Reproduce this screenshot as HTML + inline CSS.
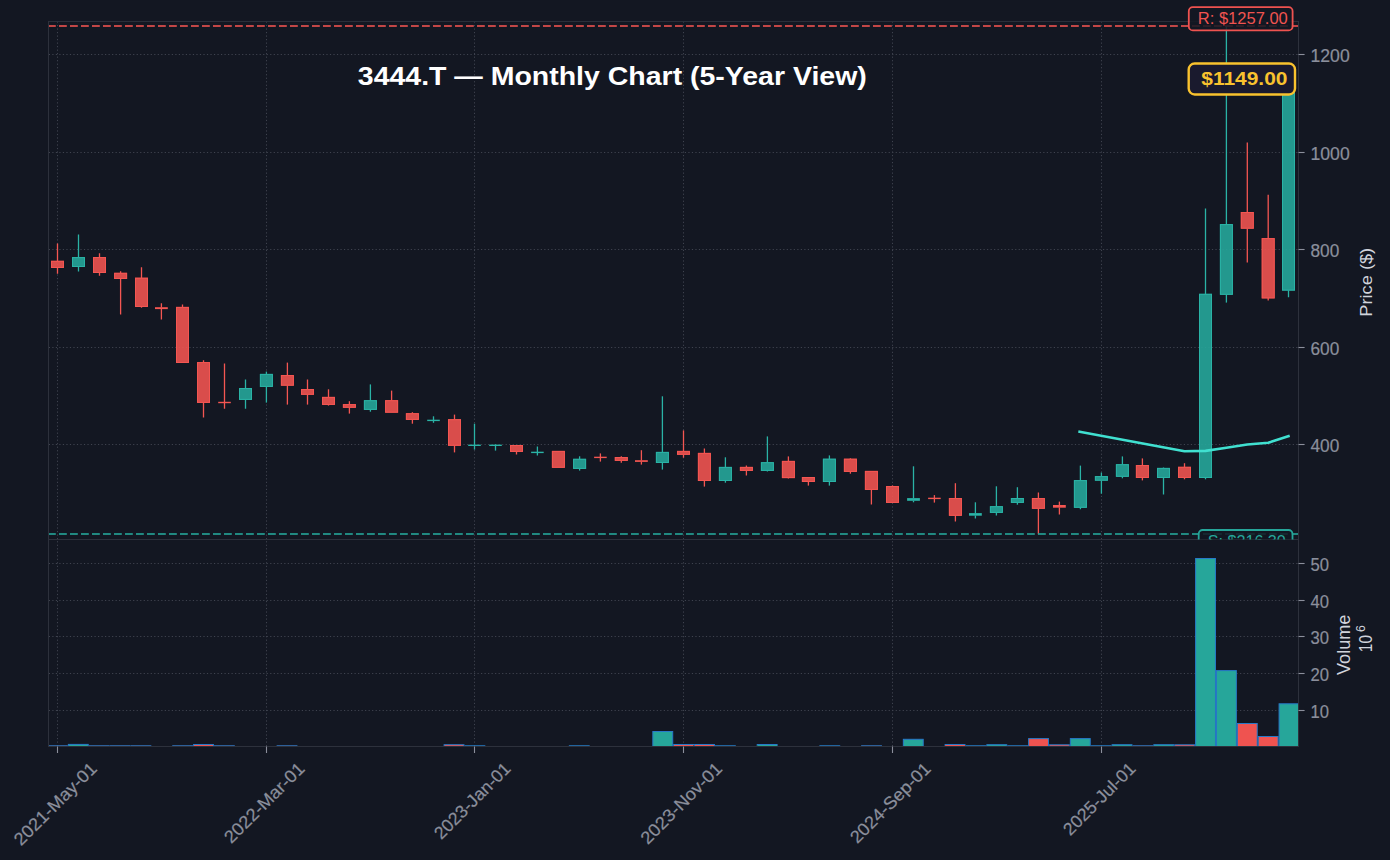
<!DOCTYPE html><html><head><meta charset="utf-8"><style>html,body{margin:0;padding:0;background:#131722;width:1390px;height:860px;overflow:hidden}svg{display:block}text{font-family:"Liberation Sans", sans-serif}</style></head><body><svg width="1390" height="860" viewBox="0 0 1390 860"><rect x="0" y="0" width="1390" height="860" fill="#131722"/><defs><clipPath id="cp"><rect x="48.5" y="21.45" width="1250.0" height="518.05"/></clipPath><clipPath id="cv"><rect x="48.5" y="539.5" width="1250.0" height="207.0"/></clipPath></defs><g stroke="#3f434f" stroke-width="1" stroke-dasharray="1.2 2.314" stroke-dashoffset="-0.3" fill="none"><line x1="57.50" y1="539.5" x2="57.50" y2="21.45"/><line x1="57.50" y1="746.5" x2="57.50" y2="539.5"/><line x1="266.50" y1="539.5" x2="266.50" y2="21.45"/><line x1="266.50" y1="746.5" x2="266.50" y2="539.5"/><line x1="474.50" y1="539.5" x2="474.50" y2="21.45"/><line x1="474.50" y1="746.5" x2="474.50" y2="539.5"/><line x1="683.50" y1="539.5" x2="683.50" y2="21.45"/><line x1="683.50" y1="746.5" x2="683.50" y2="539.5"/><line x1="892.50" y1="539.5" x2="892.50" y2="21.45"/><line x1="892.50" y1="746.5" x2="892.50" y2="539.5"/><line x1="1101.50" y1="539.5" x2="1101.50" y2="21.45"/><line x1="1101.50" y1="746.5" x2="1101.50" y2="539.5"/><line x1="48.5" y1="54.50" x2="1298.5" y2="54.50"/><line x1="48.5" y1="152.50" x2="1298.5" y2="152.50"/><line x1="48.5" y1="249.50" x2="1298.5" y2="249.50"/><line x1="48.5" y1="347.50" x2="1298.5" y2="347.50"/><line x1="48.5" y1="444.50" x2="1298.5" y2="444.50"/><line x1="48.5" y1="563.50" x2="1298.5" y2="563.50"/><line x1="48.5" y1="600.50" x2="1298.5" y2="600.50"/><line x1="48.5" y1="636.50" x2="1298.5" y2="636.50"/><line x1="48.5" y1="673.50" x2="1298.5" y2="673.50"/><line x1="48.5" y1="710.50" x2="1298.5" y2="710.50"/></g><g clip-path="url(#cv)"><rect x="47.46" y="745.80" width="19.88" height="0.70" fill="#ef5350" stroke="#2779c8" stroke-width="1"/><rect x="68.34" y="744.40" width="19.88" height="2.10" fill="#26a69a" stroke="#2779c8" stroke-width="1"/><rect x="89.21" y="745.80" width="19.88" height="0.70" fill="#ef5350" stroke="#2779c8" stroke-width="1"/><rect x="110.09" y="745.80" width="19.88" height="0.70" fill="#ef5350" stroke="#2779c8" stroke-width="1"/><rect x="130.96" y="745.80" width="19.88" height="0.70" fill="#ef5350" stroke="#2779c8" stroke-width="1"/><rect x="172.71" y="745.80" width="19.88" height="0.70" fill="#ef5350" stroke="#2779c8" stroke-width="1"/><rect x="193.59" y="744.50" width="19.88" height="2.00" fill="#ef5350" stroke="#2779c8" stroke-width="1"/><rect x="214.46" y="745.80" width="19.88" height="0.70" fill="#ef5350" stroke="#2779c8" stroke-width="1"/><rect x="277.09" y="745.80" width="19.88" height="0.70" fill="#ef5350" stroke="#2779c8" stroke-width="1"/><rect x="444.09" y="744.70" width="19.88" height="1.80" fill="#ef5350" stroke="#2779c8" stroke-width="1"/><rect x="464.96" y="745.80" width="19.88" height="0.70" fill="#26a69a" stroke="#2779c8" stroke-width="1"/><rect x="569.34" y="745.80" width="19.88" height="0.70" fill="#26a69a" stroke="#2779c8" stroke-width="1"/><rect x="652.84" y="731.50" width="19.88" height="15.00" fill="#26a69a" stroke="#2779c8" stroke-width="1"/><rect x="673.71" y="744.50" width="19.88" height="2.00" fill="#ef5350" stroke="#2779c8" stroke-width="1"/><rect x="694.59" y="744.50" width="19.88" height="2.00" fill="#ef5350" stroke="#2779c8" stroke-width="1"/><rect x="715.46" y="745.80" width="19.88" height="0.70" fill="#26a69a" stroke="#2779c8" stroke-width="1"/><rect x="757.21" y="744.50" width="19.88" height="2.00" fill="#26a69a" stroke="#2779c8" stroke-width="1"/><rect x="819.84" y="745.80" width="19.88" height="0.70" fill="#26a69a" stroke="#2779c8" stroke-width="1"/><rect x="861.59" y="745.80" width="19.88" height="0.70" fill="#ef5350" stroke="#2779c8" stroke-width="1"/><rect x="903.34" y="739.30" width="19.88" height="7.20" fill="#26a69a" stroke="#2779c8" stroke-width="1"/><rect x="945.09" y="744.50" width="19.88" height="2.00" fill="#ef5350" stroke="#2779c8" stroke-width="1"/><rect x="965.96" y="745.80" width="19.88" height="0.70" fill="#26a69a" stroke="#2779c8" stroke-width="1"/><rect x="986.84" y="744.70" width="19.88" height="1.80" fill="#26a69a" stroke="#2779c8" stroke-width="1"/><rect x="1007.71" y="745.80" width="19.88" height="0.70" fill="#26a69a" stroke="#2779c8" stroke-width="1"/><rect x="1028.59" y="738.60" width="19.88" height="7.90" fill="#ef5350" stroke="#2779c8" stroke-width="1"/><rect x="1049.46" y="744.80" width="19.88" height="1.70" fill="#ef5350" stroke="#2779c8" stroke-width="1"/><rect x="1070.34" y="738.60" width="19.88" height="7.90" fill="#26a69a" stroke="#2779c8" stroke-width="1"/><rect x="1091.21" y="745.80" width="19.88" height="0.70" fill="#26a69a" stroke="#2779c8" stroke-width="1"/><rect x="1112.09" y="744.70" width="19.88" height="1.80" fill="#26a69a" stroke="#2779c8" stroke-width="1"/><rect x="1132.96" y="745.80" width="19.88" height="0.70" fill="#ef5350" stroke="#2779c8" stroke-width="1"/><rect x="1153.84" y="744.70" width="19.88" height="1.80" fill="#26a69a" stroke="#2779c8" stroke-width="1"/><rect x="1174.71" y="744.80" width="19.88" height="1.70" fill="#ef5350" stroke="#2779c8" stroke-width="1"/><rect x="1195.59" y="558.50" width="19.88" height="188.00" fill="#26a69a" stroke="#2779c8" stroke-width="1"/><rect x="1216.46" y="670.60" width="19.88" height="75.90" fill="#26a69a" stroke="#2779c8" stroke-width="1"/><rect x="1237.34" y="723.50" width="19.88" height="23.00" fill="#ef5350" stroke="#2779c8" stroke-width="1"/><rect x="1258.21" y="736.50" width="19.88" height="10.00" fill="#ef5350" stroke="#2779c8" stroke-width="1"/><rect x="1279.09" y="703.80" width="19.88" height="42.70" fill="#26a69a" stroke="#2779c8" stroke-width="1"/></g><g clip-path="url(#cp)"><line x1="57.50" y1="243.4" x2="57.50" y2="261.10" stroke="#f45652" stroke-width="1.3"/><line x1="57.50" y1="267.70" x2="57.50" y2="273.8" stroke="#f45652" stroke-width="1.3"/><rect x="51.00" y="260.8" width="13" height="7.20" fill="#ef5350" fill-opacity="0.9"/><rect x="51.50" y="261.3" width="12" height="6.20" fill="none" stroke="#f45652" stroke-width="1"/><line x1="78.50" y1="234.4" x2="78.50" y2="257.40" stroke="#2ab3a6" stroke-width="1.3"/><line x1="78.50" y1="266.70" x2="78.50" y2="271.5" stroke="#2ab3a6" stroke-width="1.3"/><rect x="72.00" y="257.1" width="13" height="9.90" fill="#26a69a" fill-opacity="0.9"/><rect x="72.50" y="257.6" width="12" height="8.90" fill="none" stroke="#2ab3a6" stroke-width="1"/><line x1="99.50" y1="253.3" x2="99.50" y2="257.30" stroke="#f45652" stroke-width="1.3"/><line x1="99.50" y1="272.70" x2="99.50" y2="275.7" stroke="#f45652" stroke-width="1.3"/><rect x="93.00" y="257.0" width="13" height="16.00" fill="#ef5350" fill-opacity="0.9"/><rect x="93.50" y="257.5" width="12" height="15.00" fill="none" stroke="#f45652" stroke-width="1"/><line x1="120.60" y1="271.3" x2="120.60" y2="273.10" stroke="#f45652" stroke-width="1.3"/><line x1="120.60" y1="278.70" x2="120.60" y2="314.5" stroke="#f45652" stroke-width="1.3"/><rect x="114.10" y="272.8" width="13" height="6.20" fill="#ef5350" fill-opacity="0.9"/><rect x="114.60" y="273.3" width="12" height="5.20" fill="none" stroke="#f45652" stroke-width="1"/><line x1="141.50" y1="267.2" x2="141.50" y2="278.00" stroke="#f45652" stroke-width="1.3"/><line x1="141.50" y1="306.70" x2="141.50" y2="307.7" stroke="#f45652" stroke-width="1.3"/><rect x="135.00" y="277.7" width="13" height="29.30" fill="#ef5350" fill-opacity="0.9"/><rect x="135.50" y="278.2" width="12" height="28.30" fill="none" stroke="#f45652" stroke-width="1"/><line x1="161.40" y1="303.3" x2="161.40" y2="307.40" stroke="#f45652" stroke-width="1.3"/><line x1="161.40" y1="308.90" x2="161.40" y2="319.5" stroke="#f45652" stroke-width="1.3"/><rect x="155.00" y="307.20" width="12.8" height="1.90" fill="#f45652"/><line x1="182.50" y1="304.4" x2="182.50" y2="307.20" stroke="#f45652" stroke-width="1.3"/><rect x="176.00" y="306.9" width="13" height="56.10" fill="#ef5350" fill-opacity="0.9"/><rect x="176.50" y="307.4" width="12" height="55.10" fill="none" stroke="#f45652" stroke-width="1"/><line x1="203.50" y1="360.3" x2="203.50" y2="362.40" stroke="#f45652" stroke-width="1.3"/><line x1="203.50" y1="402.60" x2="203.50" y2="417.4" stroke="#f45652" stroke-width="1.3"/><rect x="197.00" y="362.1" width="13" height="40.80" fill="#ef5350" fill-opacity="0.9"/><rect x="197.50" y="362.6" width="12" height="39.80" fill="none" stroke="#f45652" stroke-width="1"/><line x1="224.50" y1="363.6" x2="224.50" y2="402.20" stroke="#f45652" stroke-width="1.3"/><line x1="224.50" y1="402.80" x2="224.50" y2="408.7" stroke="#f45652" stroke-width="1.3"/><rect x="218.20" y="401.80" width="12.6" height="1.4" fill="#f45652"/><line x1="245.50" y1="379.5" x2="245.50" y2="388.30" stroke="#2ab3a6" stroke-width="1.3"/><line x1="245.50" y1="399.60" x2="245.50" y2="408.7" stroke="#2ab3a6" stroke-width="1.3"/><rect x="239.00" y="388.0" width="13" height="11.90" fill="#26a69a" fill-opacity="0.9"/><rect x="239.50" y="388.5" width="12" height="10.90" fill="none" stroke="#2ab3a6" stroke-width="1"/><line x1="266.40" y1="371.6" x2="266.40" y2="374.20" stroke="#2ab3a6" stroke-width="1.3"/><line x1="266.40" y1="386.60" x2="266.40" y2="402.6" stroke="#2ab3a6" stroke-width="1.3"/><rect x="259.90" y="373.9" width="13" height="13.00" fill="#26a69a" fill-opacity="0.9"/><rect x="260.40" y="374.4" width="12" height="12.00" fill="none" stroke="#2ab3a6" stroke-width="1"/><line x1="287.40" y1="362.6" x2="287.40" y2="375.30" stroke="#f45652" stroke-width="1.3"/><line x1="287.40" y1="385.40" x2="287.40" y2="404.6" stroke="#f45652" stroke-width="1.3"/><rect x="280.90" y="375.0" width="13" height="10.70" fill="#ef5350" fill-opacity="0.9"/><rect x="281.40" y="375.5" width="12" height="9.70" fill="none" stroke="#f45652" stroke-width="1"/><line x1="307.50" y1="379.5" x2="307.50" y2="389.30" stroke="#f45652" stroke-width="1.3"/><line x1="307.50" y1="394.50" x2="307.50" y2="404.6" stroke="#f45652" stroke-width="1.3"/><rect x="301.00" y="389.0" width="13" height="5.80" fill="#ef5350" fill-opacity="0.9"/><rect x="301.50" y="389.5" width="12" height="4.80" fill="none" stroke="#f45652" stroke-width="1"/><line x1="328.50" y1="389.3" x2="328.50" y2="397.20" stroke="#f45652" stroke-width="1.3"/><line x1="328.50" y1="404.60" x2="328.50" y2="405.6" stroke="#f45652" stroke-width="1.3"/><rect x="322.00" y="396.9" width="13" height="8.00" fill="#ef5350" fill-opacity="0.9"/><rect x="322.50" y="397.4" width="12" height="7.00" fill="none" stroke="#f45652" stroke-width="1"/><line x1="349.40" y1="401.2" x2="349.40" y2="404.40" stroke="#f45652" stroke-width="1.3"/><line x1="349.40" y1="407.50" x2="349.40" y2="413.6" stroke="#f45652" stroke-width="1.3"/><rect x="342.90" y="404.1" width="13" height="3.70" fill="#ef5350" fill-opacity="0.9"/><rect x="343.40" y="404.6" width="12" height="2.70" fill="none" stroke="#f45652" stroke-width="1"/><line x1="370.40" y1="384.4" x2="370.40" y2="400.50" stroke="#2ab3a6" stroke-width="1.3"/><line x1="370.40" y1="409.60" x2="370.40" y2="411.7" stroke="#2ab3a6" stroke-width="1.3"/><rect x="363.90" y="400.2" width="13" height="9.70" fill="#26a69a" fill-opacity="0.9"/><rect x="364.40" y="400.7" width="12" height="8.70" fill="none" stroke="#2ab3a6" stroke-width="1"/><line x1="391.60" y1="390.6" x2="391.60" y2="400.50" stroke="#f45652" stroke-width="1.3"/><rect x="385.10" y="400.2" width="13" height="12.50" fill="#ef5350" fill-opacity="0.9"/><rect x="385.60" y="400.7" width="12" height="11.50" fill="none" stroke="#f45652" stroke-width="1"/><line x1="412.40" y1="412.2" x2="412.40" y2="413.50" stroke="#f45652" stroke-width="1.3"/><line x1="412.40" y1="419.60" x2="412.40" y2="423.7" stroke="#f45652" stroke-width="1.3"/><rect x="405.90" y="413.2" width="13" height="6.70" fill="#ef5350" fill-opacity="0.9"/><rect x="406.40" y="413.7" width="12" height="5.70" fill="none" stroke="#f45652" stroke-width="1"/><line x1="433.50" y1="416.3" x2="433.50" y2="420.20" stroke="#2ab3a6" stroke-width="1.3"/><line x1="433.50" y1="420.60" x2="433.50" y2="422.8" stroke="#2ab3a6" stroke-width="1.3"/><rect x="427.20" y="419.70" width="12.6" height="1.4" fill="#2ab3a6"/><line x1="454.50" y1="414.6" x2="454.50" y2="419.50" stroke="#f45652" stroke-width="1.3"/><line x1="454.50" y1="445.50" x2="454.50" y2="452.4" stroke="#f45652" stroke-width="1.3"/><rect x="448.00" y="419.2" width="13" height="26.60" fill="#ef5350" fill-opacity="0.9"/><rect x="448.50" y="419.7" width="12" height="25.60" fill="none" stroke="#f45652" stroke-width="1"/><line x1="474.50" y1="423.7" x2="474.50" y2="445.10" stroke="#2ab3a6" stroke-width="1.3"/><line x1="474.50" y1="445.50" x2="474.50" y2="449.6" stroke="#2ab3a6" stroke-width="1.3"/><rect x="468.20" y="444.60" width="12.6" height="1.4" fill="#2ab3a6"/><line x1="495.50" y1="444.4" x2="495.50" y2="445.10" stroke="#2ab3a6" stroke-width="1.3"/><line x1="495.50" y1="445.50" x2="495.50" y2="450.6" stroke="#2ab3a6" stroke-width="1.3"/><rect x="489.20" y="444.60" width="12.6" height="1.4" fill="#2ab3a6"/><line x1="516.50" y1="451.60" x2="516.50" y2="454.5" stroke="#f45652" stroke-width="1.3"/><rect x="510.00" y="445.0" width="13" height="6.90" fill="#ef5350" fill-opacity="0.9"/><rect x="510.50" y="445.5" width="12" height="5.90" fill="none" stroke="#f45652" stroke-width="1"/><line x1="537.40" y1="446.5" x2="537.40" y2="452.20" stroke="#2ab3a6" stroke-width="1.3"/><line x1="537.40" y1="452.60" x2="537.40" y2="455.5" stroke="#2ab3a6" stroke-width="1.3"/><rect x="531.10" y="451.70" width="12.6" height="1.4" fill="#2ab3a6"/><rect x="551.90" y="450.9" width="13" height="16.90" fill="#ef5350" fill-opacity="0.9"/><rect x="552.40" y="451.4" width="12" height="15.90" fill="none" stroke="#f45652" stroke-width="1"/><line x1="579.60" y1="456.3" x2="579.60" y2="459.10" stroke="#2ab3a6" stroke-width="1.3"/><line x1="579.60" y1="468.60" x2="579.60" y2="470.6" stroke="#2ab3a6" stroke-width="1.3"/><rect x="573.10" y="458.8" width="13" height="10.10" fill="#26a69a" fill-opacity="0.9"/><rect x="573.60" y="459.3" width="12" height="9.10" fill="none" stroke="#2ab3a6" stroke-width="1"/><line x1="600.40" y1="453.4" x2="600.40" y2="457.20" stroke="#f45652" stroke-width="1.3"/><line x1="600.40" y1="457.60" x2="600.40" y2="461.6" stroke="#f45652" stroke-width="1.3"/><rect x="594.10" y="456.70" width="12.6" height="1.4" fill="#f45652"/><line x1="621.30" y1="456.3" x2="621.30" y2="457.30" stroke="#f45652" stroke-width="1.3"/><line x1="621.30" y1="460.60" x2="621.30" y2="462.7" stroke="#f45652" stroke-width="1.3"/><rect x="614.80" y="457.0" width="13" height="3.90" fill="#ef5350" fill-opacity="0.9"/><rect x="615.30" y="457.5" width="12" height="2.90" fill="none" stroke="#f45652" stroke-width="1"/><line x1="641.40" y1="450.2" x2="641.40" y2="460.40" stroke="#f45652" stroke-width="1.3"/><line x1="641.40" y1="461.70" x2="641.40" y2="464.6" stroke="#f45652" stroke-width="1.3"/><rect x="635.00" y="460.20" width="12.8" height="1.70" fill="#f45652"/><line x1="662.40" y1="396.3" x2="662.40" y2="452.20" stroke="#2ab3a6" stroke-width="1.3"/><line x1="662.40" y1="462.70" x2="662.40" y2="469.6" stroke="#2ab3a6" stroke-width="1.3"/><rect x="655.90" y="451.9" width="13" height="11.10" fill="#26a69a" fill-opacity="0.9"/><rect x="656.40" y="452.4" width="12" height="10.10" fill="none" stroke="#2ab3a6" stroke-width="1"/><line x1="683.50" y1="430.4" x2="683.50" y2="451.20" stroke="#f45652" stroke-width="1.3"/><line x1="683.50" y1="454.50" x2="683.50" y2="457.7" stroke="#f45652" stroke-width="1.3"/><rect x="677.00" y="450.9" width="13" height="3.90" fill="#ef5350" fill-opacity="0.9"/><rect x="677.50" y="451.4" width="12" height="2.90" fill="none" stroke="#f45652" stroke-width="1"/><line x1="704.40" y1="448.5" x2="704.40" y2="453.20" stroke="#f45652" stroke-width="1.3"/><line x1="704.40" y1="480.70" x2="704.40" y2="486.6" stroke="#f45652" stroke-width="1.3"/><rect x="697.90" y="452.9" width="13" height="28.10" fill="#ef5350" fill-opacity="0.9"/><rect x="698.40" y="453.4" width="12" height="27.10" fill="none" stroke="#f45652" stroke-width="1"/><line x1="725.40" y1="457.3" x2="725.40" y2="467.20" stroke="#2ab3a6" stroke-width="1.3"/><line x1="725.40" y1="480.70" x2="725.40" y2="482.7" stroke="#2ab3a6" stroke-width="1.3"/><rect x="718.90" y="466.9" width="13" height="14.10" fill="#26a69a" fill-opacity="0.9"/><rect x="719.40" y="467.4" width="12" height="13.10" fill="none" stroke="#2ab3a6" stroke-width="1"/><line x1="746.40" y1="465.5" x2="746.40" y2="467.20" stroke="#f45652" stroke-width="1.3"/><line x1="746.40" y1="470.60" x2="746.40" y2="475.5" stroke="#f45652" stroke-width="1.3"/><rect x="739.90" y="466.9" width="13" height="4.00" fill="#ef5350" fill-opacity="0.9"/><rect x="740.40" y="467.4" width="12" height="3.00" fill="none" stroke="#f45652" stroke-width="1"/><line x1="767.40" y1="436.4" x2="767.40" y2="462.50" stroke="#2ab3a6" stroke-width="1.3"/><line x1="767.40" y1="470.60" x2="767.40" y2="471.5" stroke="#2ab3a6" stroke-width="1.3"/><rect x="760.90" y="462.2" width="13" height="8.70" fill="#26a69a" fill-opacity="0.9"/><rect x="761.40" y="462.7" width="12" height="7.70" fill="none" stroke="#2ab3a6" stroke-width="1"/><line x1="788.40" y1="456.4" x2="788.40" y2="461.20" stroke="#f45652" stroke-width="1.3"/><line x1="788.40" y1="477.80" x2="788.40" y2="478.5" stroke="#f45652" stroke-width="1.3"/><rect x="781.90" y="460.9" width="13" height="17.20" fill="#ef5350" fill-opacity="0.9"/><rect x="782.40" y="461.4" width="12" height="16.20" fill="none" stroke="#f45652" stroke-width="1"/><line x1="808.40" y1="481.70" x2="808.40" y2="485.6" stroke="#f45652" stroke-width="1.3"/><rect x="801.90" y="477.0" width="13" height="5.00" fill="#ef5350" fill-opacity="0.9"/><rect x="802.40" y="477.5" width="12" height="4.00" fill="none" stroke="#f45652" stroke-width="1"/><line x1="829.40" y1="455.4" x2="829.40" y2="459.00" stroke="#2ab3a6" stroke-width="1.3"/><line x1="829.40" y1="481.70" x2="829.40" y2="485.6" stroke="#2ab3a6" stroke-width="1.3"/><rect x="822.90" y="458.7" width="13" height="23.30" fill="#26a69a" fill-opacity="0.9"/><rect x="823.40" y="459.2" width="12" height="22.30" fill="none" stroke="#2ab3a6" stroke-width="1"/><line x1="850.40" y1="458.3" x2="850.40" y2="459.00" stroke="#f45652" stroke-width="1.3"/><line x1="850.40" y1="471.60" x2="850.40" y2="473.7" stroke="#f45652" stroke-width="1.3"/><rect x="843.90" y="458.7" width="13" height="13.20" fill="#ef5350" fill-opacity="0.9"/><rect x="844.40" y="459.2" width="12" height="12.20" fill="none" stroke="#f45652" stroke-width="1"/><line x1="871.40" y1="489.60" x2="871.40" y2="504.5" stroke="#f45652" stroke-width="1.3"/><rect x="864.90" y="470.9" width="13" height="19.00" fill="#ef5350" fill-opacity="0.9"/><rect x="865.40" y="471.4" width="12" height="18.00" fill="none" stroke="#f45652" stroke-width="1"/><line x1="892.50" y1="485.5" x2="892.50" y2="486.30" stroke="#f45652" stroke-width="1.3"/><rect x="886.00" y="486.0" width="13" height="16.90" fill="#ef5350" fill-opacity="0.9"/><rect x="886.50" y="486.5" width="12" height="15.90" fill="none" stroke="#f45652" stroke-width="1"/><line x1="913.50" y1="466.3" x2="913.50" y2="498.30" stroke="#2ab3a6" stroke-width="1.3"/><line x1="913.50" y1="500.60" x2="913.50" y2="502.3" stroke="#2ab3a6" stroke-width="1.3"/><rect x="907.10" y="498.10" width="12.8" height="2.70" fill="#2ab3a6"/><line x1="934.40" y1="495.1" x2="934.40" y2="498.20" stroke="#f45652" stroke-width="1.3"/><line x1="934.40" y1="498.60" x2="934.40" y2="502.6" stroke="#f45652" stroke-width="1.3"/><rect x="928.10" y="497.70" width="12.6" height="1.4" fill="#f45652"/><line x1="955.40" y1="483.2" x2="955.40" y2="498.30" stroke="#f45652" stroke-width="1.3"/><line x1="955.40" y1="515.50" x2="955.40" y2="521.6" stroke="#f45652" stroke-width="1.3"/><rect x="948.90" y="498.0" width="13" height="17.80" fill="#ef5350" fill-opacity="0.9"/><rect x="949.40" y="498.5" width="12" height="16.80" fill="none" stroke="#f45652" stroke-width="1"/><line x1="975.40" y1="502.3" x2="975.40" y2="513.30" stroke="#2ab3a6" stroke-width="1.3"/><line x1="975.40" y1="515.50" x2="975.40" y2="518.4" stroke="#2ab3a6" stroke-width="1.3"/><rect x="969.00" y="513.10" width="12.8" height="2.60" fill="#2ab3a6"/><line x1="996.40" y1="486.3" x2="996.40" y2="506.50" stroke="#2ab3a6" stroke-width="1.3"/><line x1="996.40" y1="512.60" x2="996.40" y2="515.5" stroke="#2ab3a6" stroke-width="1.3"/><rect x="989.90" y="506.2" width="13" height="6.70" fill="#26a69a" fill-opacity="0.9"/><rect x="990.40" y="506.7" width="12" height="5.70" fill="none" stroke="#2ab3a6" stroke-width="1"/><line x1="1017.40" y1="487.2" x2="1017.40" y2="498.30" stroke="#2ab3a6" stroke-width="1.3"/><line x1="1017.40" y1="502.60" x2="1017.40" y2="504.7" stroke="#2ab3a6" stroke-width="1.3"/><rect x="1010.90" y="498.0" width="13" height="4.90" fill="#26a69a" fill-opacity="0.9"/><rect x="1011.40" y="498.5" width="12" height="3.90" fill="none" stroke="#2ab3a6" stroke-width="1"/><line x1="1038.40" y1="492.5" x2="1038.40" y2="498.30" stroke="#f45652" stroke-width="1.3"/><line x1="1038.40" y1="508.50" x2="1038.40" y2="534.2" stroke="#f45652" stroke-width="1.3"/><rect x="1031.90" y="498.0" width="13" height="10.80" fill="#ef5350" fill-opacity="0.9"/><rect x="1032.40" y="498.5" width="12" height="9.80" fill="none" stroke="#f45652" stroke-width="1"/><line x1="1059.40" y1="501.6" x2="1059.40" y2="505.20" stroke="#f45652" stroke-width="1.3"/><line x1="1059.40" y1="507.50" x2="1059.40" y2="514.5" stroke="#f45652" stroke-width="1.3"/><rect x="1053.00" y="505.00" width="12.8" height="2.70" fill="#f45652"/><line x1="1080.40" y1="465.6" x2="1080.40" y2="480.40" stroke="#2ab3a6" stroke-width="1.3"/><line x1="1080.40" y1="507.50" x2="1080.40" y2="509.2" stroke="#2ab3a6" stroke-width="1.3"/><rect x="1073.90" y="480.1" width="13" height="27.70" fill="#26a69a" fill-opacity="0.9"/><rect x="1074.40" y="480.6" width="12" height="26.70" fill="none" stroke="#2ab3a6" stroke-width="1"/><line x1="1101.40" y1="472.5" x2="1101.40" y2="476.40" stroke="#2ab3a6" stroke-width="1.3"/><line x1="1101.40" y1="480.40" x2="1101.40" y2="493.7" stroke="#2ab3a6" stroke-width="1.3"/><rect x="1094.90" y="476.1" width="13" height="4.60" fill="#26a69a" fill-opacity="0.9"/><rect x="1095.40" y="476.6" width="12" height="3.60" fill="none" stroke="#2ab3a6" stroke-width="1"/><line x1="1122.40" y1="456.4" x2="1122.40" y2="464.50" stroke="#2ab3a6" stroke-width="1.3"/><line x1="1122.40" y1="476.50" x2="1122.40" y2="478.3" stroke="#2ab3a6" stroke-width="1.3"/><rect x="1115.90" y="464.2" width="13" height="12.60" fill="#26a69a" fill-opacity="0.9"/><rect x="1116.40" y="464.7" width="12" height="11.60" fill="none" stroke="#2ab3a6" stroke-width="1"/><line x1="1142.40" y1="458.4" x2="1142.40" y2="465.30" stroke="#f45652" stroke-width="1.3"/><line x1="1142.40" y1="477.70" x2="1142.40" y2="480.4" stroke="#f45652" stroke-width="1.3"/><rect x="1135.90" y="465.0" width="13" height="13.00" fill="#ef5350" fill-opacity="0.9"/><rect x="1136.40" y="465.5" width="12" height="12.00" fill="none" stroke="#f45652" stroke-width="1"/><line x1="1163.50" y1="467.5" x2="1163.50" y2="468.20" stroke="#2ab3a6" stroke-width="1.3"/><line x1="1163.50" y1="477.70" x2="1163.50" y2="494.5" stroke="#2ab3a6" stroke-width="1.3"/><rect x="1157.00" y="467.9" width="13" height="10.10" fill="#26a69a" fill-opacity="0.9"/><rect x="1157.50" y="468.4" width="12" height="9.10" fill="none" stroke="#2ab3a6" stroke-width="1"/><line x1="1184.50" y1="463.2" x2="1184.50" y2="467.10" stroke="#f45652" stroke-width="1.3"/><line x1="1184.50" y1="477.70" x2="1184.50" y2="479.3" stroke="#f45652" stroke-width="1.3"/><rect x="1178.00" y="466.8" width="13" height="11.20" fill="#ef5350" fill-opacity="0.9"/><rect x="1178.50" y="467.3" width="12" height="10.20" fill="none" stroke="#f45652" stroke-width="1"/><line x1="1205.50" y1="208.4" x2="1205.50" y2="294.10" stroke="#2ab3a6" stroke-width="1.3"/><line x1="1205.50" y1="477.70" x2="1205.50" y2="479.3" stroke="#2ab3a6" stroke-width="1.3"/><rect x="1199.00" y="293.8" width="13" height="184.20" fill="#26a69a" fill-opacity="0.9"/><rect x="1199.50" y="294.3" width="12" height="183.20" fill="none" stroke="#2ab3a6" stroke-width="1"/><line x1="1226.40" y1="25.9" x2="1226.40" y2="224.40" stroke="#2ab3a6" stroke-width="1.3"/><line x1="1226.40" y1="294.50" x2="1226.40" y2="302.6" stroke="#2ab3a6" stroke-width="1.3"/><rect x="1219.90" y="224.1" width="13" height="70.70" fill="#26a69a" fill-opacity="0.9"/><rect x="1220.40" y="224.6" width="12" height="69.70" fill="none" stroke="#2ab3a6" stroke-width="1"/><line x1="1247.30" y1="142.5" x2="1247.30" y2="212.30" stroke="#f45652" stroke-width="1.3"/><line x1="1247.30" y1="228.40" x2="1247.30" y2="262.4" stroke="#f45652" stroke-width="1.3"/><rect x="1240.80" y="212.0" width="13" height="16.70" fill="#ef5350" fill-opacity="0.9"/><rect x="1241.30" y="212.5" width="12" height="15.70" fill="none" stroke="#f45652" stroke-width="1"/><line x1="1268.20" y1="194.8" x2="1268.20" y2="238.40" stroke="#f45652" stroke-width="1.3"/><line x1="1268.20" y1="298.10" x2="1268.20" y2="300.5" stroke="#f45652" stroke-width="1.3"/><rect x="1261.70" y="238.1" width="13" height="60.30" fill="#ef5350" fill-opacity="0.9"/><rect x="1262.20" y="238.6" width="12" height="59.30" fill="none" stroke="#f45652" stroke-width="1"/><line x1="1288.50" y1="70.0" x2="1288.50" y2="79.60" stroke="#2ab3a6" stroke-width="1.3"/><line x1="1288.50" y1="290.30" x2="1288.50" y2="297.3" stroke="#2ab3a6" stroke-width="1.3"/><rect x="1282.00" y="79.3" width="13" height="211.30" fill="#26a69a" fill-opacity="0.9"/><rect x="1282.50" y="79.8" width="12" height="210.30" fill="none" stroke="#2ab3a6" stroke-width="1"/></g><polyline points="1079.60,431.7 1184.50,451.2 1205.50,450.9 1226.40,447.8 1247.30,444.5 1268.20,442.8 1288.50,436.2" fill="none" stroke="#40e0d0" stroke-width="2.6" stroke-linejoin="round" stroke-linecap="square" clip-path="url(#cp)"/><line x1="48.5" y1="26.0" x2="1298.5" y2="26.0" stroke="#ef5350" stroke-opacity="0.8" stroke-width="2" stroke-dasharray="7.8 3.2" stroke-dashoffset="0.5"/><line x1="48.5" y1="534.0" x2="1298.5" y2="534.0" stroke="#26a69a" stroke-opacity="0.8" stroke-width="2" stroke-dasharray="7.8 3.2" stroke-dashoffset="0.5"/><g stroke="#2d313c" stroke-width="1" fill="none"><rect x="48.5" y="21.45" width="1250.0" height="725.05"/><line x1="48.5" y1="539.5" x2="1298.5" y2="539.5"/></g><g stroke="#8b8f9c" stroke-width="1.1"><line x1="1298.5" y1="54.50" x2="1304.6" y2="54.50"/><line x1="1298.5" y1="152.50" x2="1304.6" y2="152.50"/><line x1="1298.5" y1="249.50" x2="1304.6" y2="249.50"/><line x1="1298.5" y1="347.50" x2="1304.6" y2="347.50"/><line x1="1298.5" y1="444.50" x2="1304.6" y2="444.50"/><line x1="1298.5" y1="563.50" x2="1304.6" y2="563.50"/><line x1="1298.5" y1="600.50" x2="1304.6" y2="600.50"/><line x1="1298.5" y1="636.50" x2="1304.6" y2="636.50"/><line x1="1298.5" y1="673.50" x2="1304.6" y2="673.50"/><line x1="1298.5" y1="710.50" x2="1304.6" y2="710.50"/><line x1="57.50" y1="746.5" x2="57.50" y2="753.0"/><line x1="266.50" y1="746.5" x2="266.50" y2="753.0"/><line x1="474.50" y1="746.5" x2="474.50" y2="753.0"/><line x1="683.50" y1="746.5" x2="683.50" y2="753.0"/><line x1="892.50" y1="746.5" x2="892.50" y2="753.0"/><line x1="1101.50" y1="746.5" x2="1101.50" y2="753.0"/></g><g fill="#8b8f9c" font-size="17.6" stroke="#8b8f9c" stroke-width="0.2"><text x="1310.5" y="451.75" textLength="28.8" lengthAdjust="spacingAndGlyphs">400</text><text x="1310.5" y="354.75" textLength="28.8" lengthAdjust="spacingAndGlyphs">600</text><text x="1310.5" y="256.75" textLength="28.8" lengthAdjust="spacingAndGlyphs">800</text><text x="1310.5" y="159.75" textLength="39.2" lengthAdjust="spacingAndGlyphs">1000</text><text x="1310.5" y="61.75" textLength="39.2" lengthAdjust="spacingAndGlyphs">1200</text><text x="1310.5" y="717.75" textLength="18.5" lengthAdjust="spacingAndGlyphs">10</text><text x="1310.5" y="680.75" textLength="18.5" lengthAdjust="spacingAndGlyphs">20</text><text x="1310.5" y="643.75" textLength="18.5" lengthAdjust="spacingAndGlyphs">30</text><text x="1310.5" y="607.75" textLength="18.5" lengthAdjust="spacingAndGlyphs">40</text><text x="1310.5" y="570.75" textLength="18.5" lengthAdjust="spacingAndGlyphs">50</text></g><g fill="#8b8f9c" font-size="17.6" stroke="#8b8f9c" stroke-width="0.2"><text x="0" y="0" text-anchor="middle" transform="translate(55.10,803.71) rotate(-45) translate(0,6.2)" textLength="108.6" lengthAdjust="spacingAndGlyphs">2021-May-01</text><text x="0" y="0" text-anchor="middle" transform="translate(264.10,802.65) rotate(-45) translate(0,6.2)" textLength="105.6" lengthAdjust="spacingAndGlyphs">2022-Mar-01</text><text x="0" y="0" text-anchor="middle" transform="translate(472.10,800.64) rotate(-45) translate(0,6.2)" textLength="99.9" lengthAdjust="spacingAndGlyphs">2023-Jan-01</text><text x="0" y="0" text-anchor="middle" transform="translate(681.10,803.04) rotate(-45) translate(0,6.2)" textLength="106.7" lengthAdjust="spacingAndGlyphs">2023-Nov-01</text><text x="0" y="0" text-anchor="middle" transform="translate(890.10,802.65) rotate(-45) translate(0,6.2)" textLength="105.6" lengthAdjust="spacingAndGlyphs">2024-Sep-01</text><text x="0" y="0" text-anchor="middle" transform="translate(1099.10,798.66) rotate(-45) translate(0,6.2)" textLength="94.3" lengthAdjust="spacingAndGlyphs">2025-Jul-01</text></g><text x="0" y="0" fill="#d1d4dc" font-size="16.8" text-anchor="middle" transform="translate(1371.6,282.3) rotate(-90)" textLength="69" lengthAdjust="spacingAndGlyphs">Price ($)</text><text x="0" y="0" fill="#d1d4dc" font-size="17.6" text-anchor="middle" transform="translate(1350.4,644.8) rotate(-90)" textLength="60.5" lengthAdjust="spacingAndGlyphs">Volume</text><text x="0" y="0" fill="#d1d4dc" font-size="17.6" transform="translate(1372.3,652.2) rotate(-90)" textLength="17.2" lengthAdjust="spacingAndGlyphs">10</text><text x="0" y="0" fill="#d1d4dc" font-size="12.2" transform="translate(1364.6,632.0) rotate(-90)">6</text><text x="357.8" y="85.1" fill="#ffffff" font-size="25.2" font-weight="bold" textLength="509" lengthAdjust="spacingAndGlyphs">3444.T — Monthly Chart (5-Year View)</text><rect x="1188.8" y="7.2" width="103.8" height="23.2" rx="4" ry="4" fill="#131722" fill-opacity="0.85" stroke="#ef5350" stroke-width="1.8"/><text x="1197.8" y="23.9" fill="#ef5350" font-size="16.2" textLength="90.0" lengthAdjust="spacingAndGlyphs">R: $1257.00</text><rect x="1188.7" y="63.5" width="106.3" height="31.0" rx="6" ry="6" fill="#1a1a2e" stroke="#f9c22e" stroke-width="2.4"/><text x="1201.3" y="85.1" fill="#f9c22e" font-size="17.9" font-weight="bold" textLength="86.2" lengthAdjust="spacingAndGlyphs">$1149.00</text><g clip-path="url(#cp)"><rect x="1198.7" y="530.0" width="93.8" height="23.2" rx="4" ry="4" fill="#131722" fill-opacity="0.85" stroke="#26a69a" stroke-width="1.8"/><text x="1207.8" y="547.3" fill="#26a69a" font-size="16.2" textLength="78" lengthAdjust="spacingAndGlyphs">S: $216.30</text></g></svg></body></html>
